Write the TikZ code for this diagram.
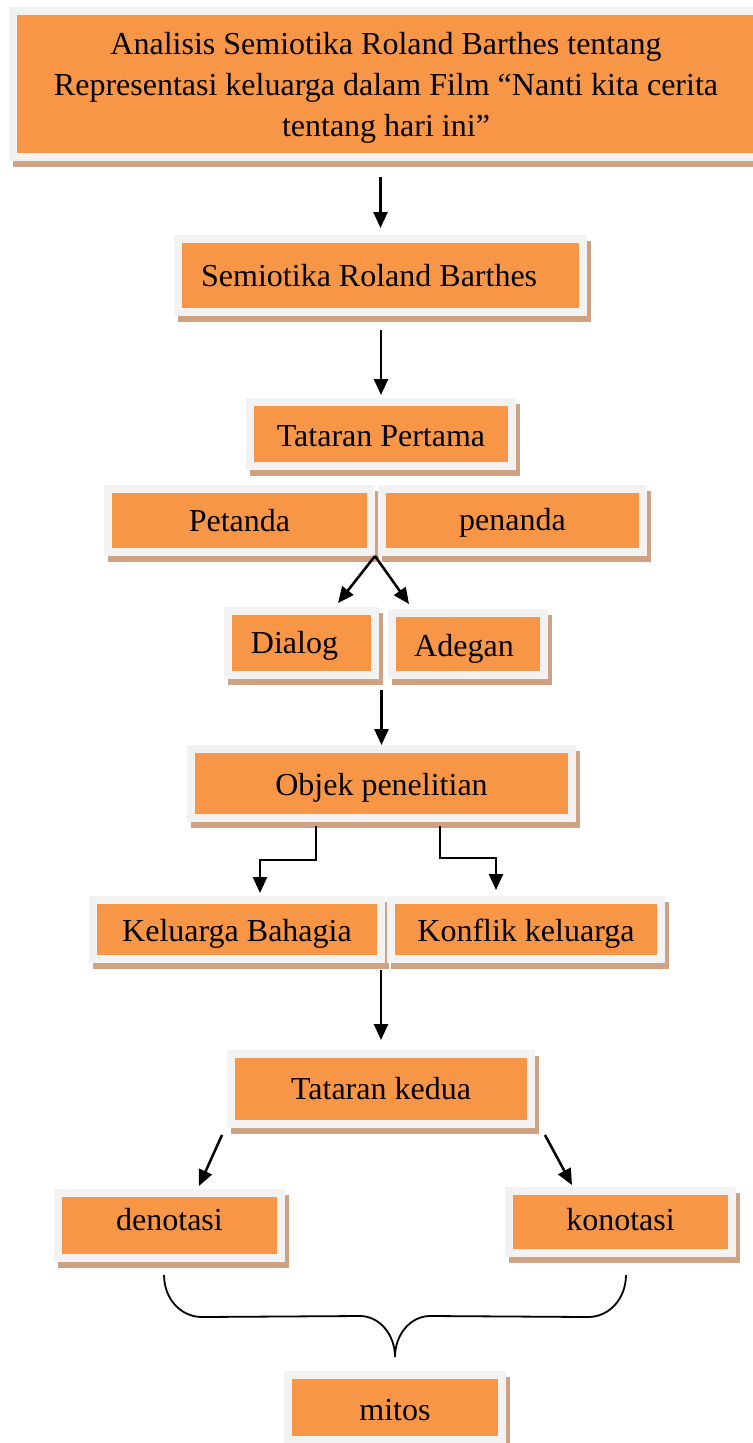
\documentclass[tikz,border=0pt]{standalone}
\usepackage{fontspec}
\setmainfont{Liberation Serif}
\usetikzlibrary{arrows.meta,calc}
\definecolor{orangec}{HTML}{F79646}
\definecolor{framec}{HTML}{F2F2F2}
\definecolor{shadowc}{HTML}{CFA283}
\newcommand{\dnt}[2]{\raisebox{-#1}[\height][\depth]{#2}}
\begin{document}
\begin{tikzpicture}[x=0.75pt,y=-0.75pt,
  obox/.style 2 args={fill=orangec, draw=framec, line width=6pt, inner sep=0pt,
    outer sep=3pt, minimum width=#1*0.75pt, minimum height=#2*0.75pt,
    font=\fontsize{24}{30.75}\selectfont, text=black,
    preaction={fill=shadowc, draw=shadowc, transform canvas={shift={(3pt,-4.5pt)}}}},
  arr/.style={line width=1.9pt, -{Triangle[length=12pt,width=10.5pt]}},
  bracestyle/.style={line width=1.35pt}]
\useasboundingbox (0,0) rectangle (753,1443);
\fill[white] (0,0) rectangle (753,1443);

\node[obox={746}{146}] (title) at (386,84)
  {\dnt{2.5pt}{\fontsize{24}{30.75}\selectfont\begin{tabular}{@{}c@{}}Analisis Semiotika Roland Barthes tentang\\Representasi keluarga dalam Film “Nanti kita cerita\\tentang hari ini”\end{tabular}}};
\node[obox={405}{73}] (semi) at (380.5,275.5) {Semiotika Roland Barthes\rule{17pt}{0pt}};
\node[obox={262}{64}] (tp) at (381,434) {\dnt{2pt}{Tataran Pertama}};
\node[obox={263}{63}] (petanda) at (239.5,520.5) {Petanda};
\node[obox={261}{63}] (penanda) at (512.5,520.5) {\dnt{2pt}{penanda}};
\node[obox={147}{64}] (dialog) at (301.5,643) {\dnt{2.25pt}{Dialog}\rule{10.5pt}{0pt}};
\node[obox={152}{62}] (adegan) at (468,644) {\dnt{3.5pt}{Adegan}\rule{6pt}{0pt}};
\node[obox={381}{69}] (objek) at (381.5,783.5) {\dnt{3pt}{Objek penelitian}};
\node[obox={288}{59}] (kb) at (237,929.5) {\dnt{3pt}{Keluarga Bahagia}};
\node[obox={270}{59}] (konflik) at (526,929.5) {\dnt{3pt}{Konflik keluarga}};
\node[obox={300}{70}] (tk) at (381,1089) {Tataran kedua};
\node[obox={223}{65}] (deno) at (169.5,1225.5) {\dnt{-4.5pt}{denotasi}};
\node[obox={223}{62}] (kono) at (620.5,1222) {\dnt{-2pt}{konotasi}};
\node[obox={214}{65}] (mitos) at (395,1407.5) {\dnt{2.25pt}{mitos}};

\draw[arr, shorten <=12pt, shorten >=5.25pt] (title.south -| semi.north) -- (semi.north);
\draw[arr, shorten <=10.5pt, shorten >=2.25pt] (semi.south -| tp.north) -- (tp.north);
\draw[arr] (petanda.south east) -- ([xshift=27.4pt,yshift=3pt]dialog.north);
\draw[arr] (petanda.south east) -- ([xshift=-44.25pt,yshift=3.75pt]adegan.north);
\draw[arr, shorten <=8.25pt] (adegan.south -| objek.north) -- (objek.north);
\draw[arr, shorten <=3pt] ([xshift=-49.1pt]objek.south) -- ++(0,38) -| ([xshift=17.25pt,yshift=2.25pt]kb.north);
\draw[arr, shorten <=3pt] ([xshift=43.9pt]objek.south) -- ++(0,36) -| ([xshift=-22.5pt,yshift=4.5pt]konflik.north);
\draw[arr, shorten <=5.25pt, shorten >=7.5pt] (kb.south -| tk.north) -- (tk.north);
\draw[arr] ([xshift=-3.75pt,yshift=-5.25pt]tk.south west) -- ([xshift=22.1pt,yshift=2.25pt]deno.north);
\draw[arr] ([xshift=7.5pt,yshift=-5.25pt]tk.south east) -- ([xshift=-36.4pt,yshift=1.5pt]kono.north);

\coordinate (bl) at ([xshift=-4.1pt,yshift=-9.75pt]deno.south);
\coordinate (br) at ([xshift=4.1pt,yshift=-13.5pt]kono.south);
\coordinate (tip) at ([yshift=10.5pt]mitos.north);
\draw[bracestyle] (bl) .. controls ($(bl)+(0,23)$) and ($(bl)+(16,42)$) .. ($(bl)+(38,42)$)
  -- ($(tip)+(-35,-41)$) .. controls ($(tip)+(-16,-41)$) and ($(tip)+(0,-23)$) .. (tip)
  .. controls ($(tip)+(0,-23)$) and ($(tip)+(16,-41)$) .. ($(tip)+(35,-41)$)
  -- ($(br)+(-38,42)$) .. controls ($(br)+(-16,42)$) and ($(br)+(0,23)$) .. (br);
\end{tikzpicture}
\end{document}
